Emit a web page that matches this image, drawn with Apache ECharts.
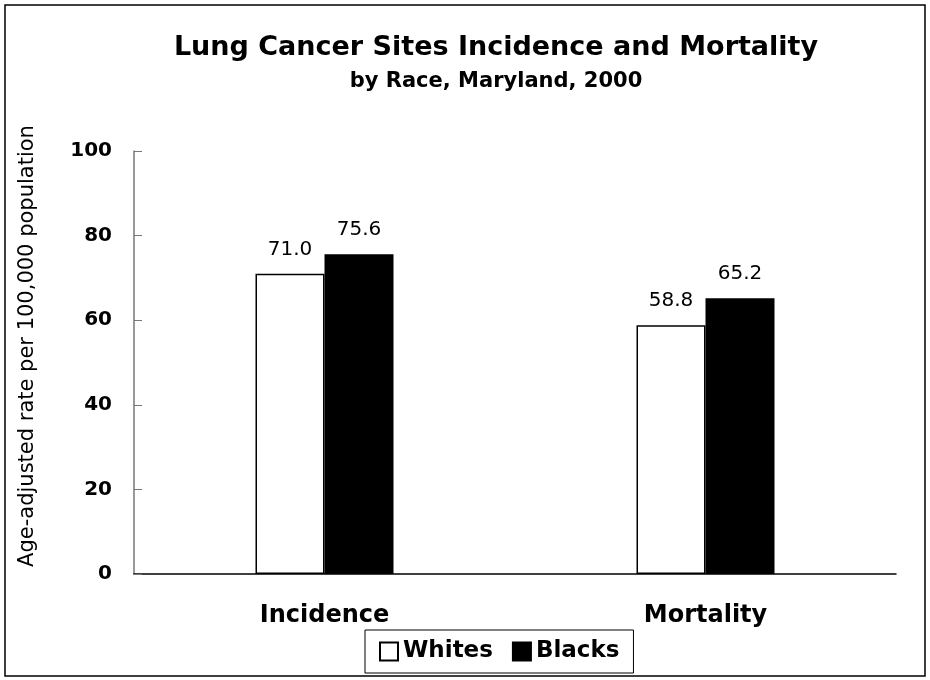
<!DOCTYPE html>
<html>
<head>
<meta charset="utf-8">
<script src="https://cdn.jsdelivr.net/npm/echarts@6/dist/echarts.min.js"></script>
<style>
  html, body { margin: 0; padding: 0; background: #fff; }
  #main { width: 930px; height: 680px; }
</style>
</head>
<body>
<div id="main"></div>
<script>
var categories = ["Incidence", "Mortality"];
var whites = [71.0, 58.8];
var blacks = [75.6, 65.2];
var yTicks = [0, 20, 40, 60, 80, 100];

var font = "DejaVu Sans";
var chart = echarts.init(document.getElementById("main"));

var labelOpt = {
    show: true,
    position: "top",
    distance: 14,
    fontFamily: font,
    fontSize: 20,
    color: "#000",
    formatter: function (p) { return p.value.toFixed(1); }
};

chart.setOption({
    animation: false,
    backgroundColor: "#fff",
    graphic: [
        {
            type: "rect",
            shape: { x: 5, y: 5, width: 920, height: 671 },
            style: { fill: "none", stroke: "#000", lineWidth: 1.5 }
        },
        {
            // y axis title, placed a bit above the plot centre like the original
            type: "text",
            x: 28, y: 346,
            rotation: Math.PI / 2,
            style: {
                text: "Age-adjusted rate per 100,000 population",
                font: "21px 'DejaVu Sans'",
                fill: "#000",
                textAlign: "center",
                textVerticalAlign: "middle"
            }
        }
    ],
    title: [
        {
            text: "Lung Cancer Sites Incidence and Mortality",
            left: 491, top: 29, textAlign: "center",
            textStyle: { fontFamily: font, fontSize: 27, fontWeight: "bold", color: "#000" }
        },
        {
            text: "by Race, Maryland, 2000",
            left: 491, top: 66, textAlign: "center",
            textStyle: { fontFamily: font, fontSize: 21, fontWeight: "bold", color: "#000" }
        }
    ],
    legend: {
        top: 630,
        left: 365,
        icon: "rect",
        itemWidth: 18,
        itemHeight: 18,
        itemGap: 19,
        padding: [10, 14],
        borderColor: "#000",
        borderWidth: 1,
        textStyle: { fontFamily: font, fontSize: 23, fontWeight: "bold", color: "#000" },
        data: ["Whites", "Blacks"]
    },
    grid: { left: 134, right: 34, top: 151, bottom: 106 },
    xAxis: {
        type: "category",
        data: categories,
        axisLine: { lineStyle: { color: "#000", width: 1.5 } },
        axisTick: { show: false },
        axisLabel: { fontFamily: font, fontSize: 24, fontWeight: "bold", color: "#000", margin: 30 }
    },
    yAxis: {
        type: "value",
        min: yTicks[0],
        max: yTicks[yTicks.length - 1],
        interval: 20,
        axisLine: { show: true, lineStyle: { color: "#777", width: 1.5 } },
        axisTick: { show: true, inside: true, length: 8, lineStyle: { color: "#777" } },
        splitLine: { show: false },
        axisLabel: { fontFamily: font, fontSize: 20, fontWeight: "bold", color: "#000", margin: 22 }
    },
    series: [
        {
            name: "Whites",
            type: "bar",
            data: whites,
            barWidth: 69,
            barGap: "0%",
            itemStyle: { color: "#fff", borderColor: "#000", borderWidth: 1.5 },
            label: labelOpt
        },
        {
            name: "Blacks",
            type: "bar",
            data: blacks,
            barWidth: 69,
            barGap: "0%",
            itemStyle: { color: "#000", borderColor: "#000", borderWidth: 1.5 },
            label: labelOpt
        }
    ]
});
</script>
</body>
</html>
